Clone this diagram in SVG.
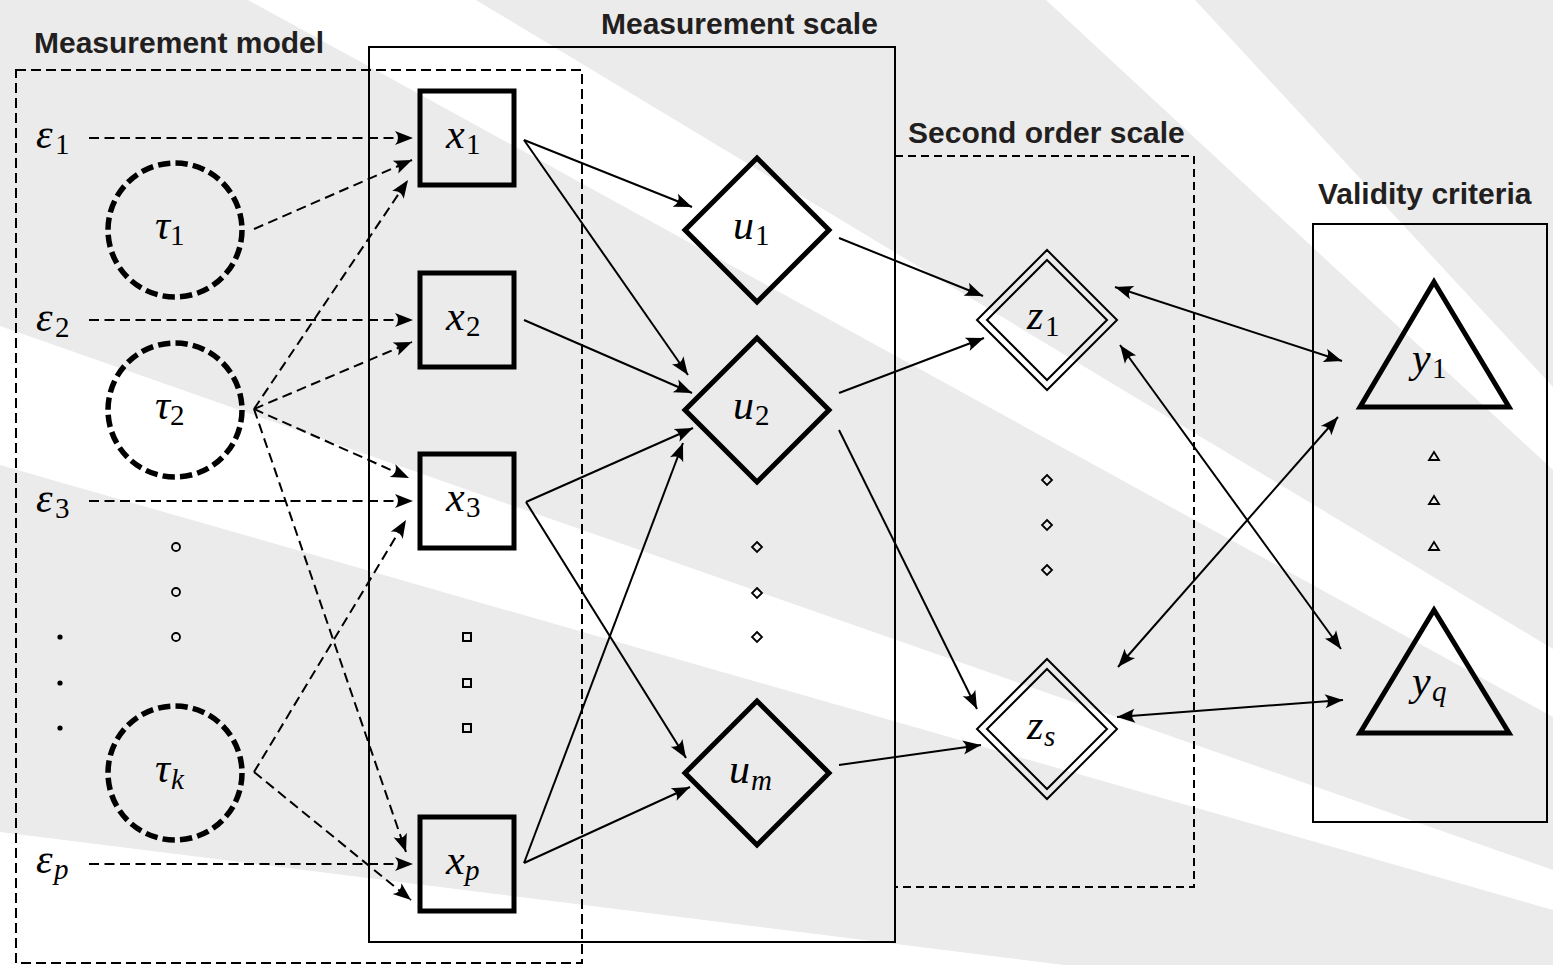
<svg xmlns="http://www.w3.org/2000/svg" width="1553" height="965" viewBox="0 0 1553 965">
<style>
.bg{fill:#ebebeb}
.st{fill:#fff}
.ttl{font-family:"Liberation Sans",Arial,sans-serif;font-weight:bold;font-size:30px;fill:#231f20}
.m{font-family:"Liberation Serif","Times New Roman",serif;font-style:italic;font-size:42px;fill:#000}
.s{font-size:29px}
.up{font-style:normal}
.box{fill:none;stroke:#000;stroke-width:2}
.dbox{fill:none;stroke:#000;stroke-width:2;stroke-dasharray:10 5}
.thk{fill:none;stroke:#000;stroke-width:5;stroke-linejoin:miter}
.tau{fill:none;stroke:#000;stroke-width:5.5;stroke-dasharray:12.3 5.24}
.thin{fill:none;stroke:#000;stroke-width:2}
.sm{fill:none;stroke:#000;stroke-width:1.8}
.dot{fill:#000}
.c{fill:none;stroke:#000;stroke-width:2;marker-end:url(#ah)}
.cd{fill:none;stroke:#000;stroke-width:2;stroke-dasharray:10 5.5;marker-end:url(#ah)}
.bi{fill:none;stroke:#000;stroke-width:2;marker-start:url(#ah);marker-end:url(#ah)}
</style>
<defs>
<marker id="ah" viewBox="-20 -9 22 18" refX="0" refY="0" markerWidth="22" markerHeight="18" markerUnits="userSpaceOnUse" orient="auto-start-reverse">
<path d="M0,0 L-18,-7 Q-12,0 -18,7 Z" fill="#000"/>
</marker>
</defs>

<g id="background">
<rect class="bg" x="0" y="0" width="1553" height="965"/>
<polygon class="st" points="248,0 476,0 1553,649 1553,717"/>
<polygon class="st" points="1046,0 1195,0 1553,387 1553,470"/>
<polygon class="st" points="0,326 1553,870 1553,910 0,465"/>
<polygon class="st" points="0,832 1064,965 0,965"/>
</g>

<g id="groups">
<g id="measurement-model">
<rect class="dbox" x="16" y="70" width="566" height="893"/>
<text class="ttl" x="34" y="53">Measurement model</text>
</g>
<g id="measurement-scale">
<rect class="box" x="369" y="47" width="526" height="895"/>
<text class="ttl" x="601" y="34">Measurement scale</text>
</g>
<g id="second-order-scale">
<rect class="dbox" x="895" y="156" width="299" height="731" style="stroke-dasharray:8 5"/>
<text class="ttl" x="908" y="143">Second order scale</text>
</g>
<g id="validity-criteria">
<rect class="box" x="1313" y="224" width="234" height="598"/>
<text class="ttl" x="1318" y="204">Validity criteria</text>
</g>
</g>

<g id="connectors">
<line class="cd" x1="89" y1="138" x2="413" y2="138"/>
<line class="cd" x1="89" y1="320" x2="413" y2="320"/>
<line class="cd" x1="89" y1="501" x2="413" y2="501"/>
<line class="cd" x1="89" y1="864" x2="413" y2="864"/>
<line class="cd" x1="254" y1="229" x2="412" y2="160"/>
<line class="cd" x1="254" y1="409" x2="408" y2="180"/>
<line class="cd" x1="254" y1="409" x2="412" y2="342"/>
<line class="cd" x1="254" y1="409" x2="409" y2="478"/>
<line class="cd" x1="254" y1="409" x2="406" y2="852"/>
<line class="cd" x1="254" y1="772" x2="406" y2="520"/>
<line class="cd" x1="254" y1="772" x2="411" y2="900"/>
<line class="c" x1="524" y1="140" x2="692" y2="207"/>
<line class="c" x1="524" y1="140" x2="688" y2="375"/>
<line class="c" x1="524" y1="320" x2="692" y2="393"/>
<line class="c" x1="526" y1="502" x2="693" y2="428"/>
<line class="c" x1="524" y1="863" x2="683" y2="443"/>
<line class="c" x1="526" y1="502" x2="686" y2="758"/>
<line class="c" x1="524" y1="863" x2="690" y2="787"/>
<line class="c" x1="839" y1="238" x2="983" y2="296"/>
<line class="c" x1="839" y1="393" x2="984" y2="338"/>
<line class="c" x1="839" y1="430" x2="977" y2="709"/>
<line class="c" x1="839" y1="765" x2="981" y2="745"/>
<line class="bi" x1="1115" y1="287" x2="1342" y2="361"/>
<line class="bi" x1="1120" y1="345" x2="1341" y2="649"/>
<line class="bi" x1="1118" y1="667" x2="1338" y2="417"/>
<line class="bi" x1="1117" y1="717" x2="1343" y2="700"/>
</g>

<g id="eps1"><text class="m" x="36" y="148">ε<tspan class="s up" x="55" y="154">1</tspan></text></g>
<g id="eps2"><text class="m" x="36" y="331">ε<tspan class="s up" x="55" y="337">2</tspan></text></g>
<g id="eps3"><text class="m" x="36" y="512">ε<tspan class="s up" x="55" y="518">3</tspan></text></g>
<g id="epsp"><text class="m" x="36" y="873">ε<tspan class="s" x="54" y="879">p</tspan></text></g>

<g id="tau1"><circle class="tau" cx="175" cy="230" r="67"/><text class="m" x="155" y="239">τ<tspan class="s up" x="170" y="245">1</tspan></text></g>
<g id="tau2"><circle class="tau" cx="175" cy="410" r="67"/><text class="m" x="155" y="419">τ<tspan class="s up" x="170" y="425">2</tspan></text></g>
<g id="tauk"><circle class="tau" cx="175" cy="773" r="67"/><text class="m" x="155" y="782">τ<tspan class="s" x="171" y="789">k</tspan></text></g>
<g id="tau-dots">
<circle class="sm" cx="176" cy="547" r="4"/><circle class="sm" cx="176" cy="592" r="4"/><circle class="sm" cx="176" cy="637" r="4"/>
<circle class="dot" cx="60" cy="637" r="2.6"/><circle class="dot" cx="60" cy="683" r="2.6"/><circle class="dot" cx="60" cy="728" r="2.6"/>
</g>

<g id="x1"><rect class="thk" x="420" y="91" width="94" height="94"/><text class="m" x="446" y="148">x<tspan class="s up" x="466" y="154">1</tspan></text></g>
<g id="x2"><rect class="thk" x="420" y="273" width="94" height="94"/><text class="m" x="446" y="330">x<tspan class="s up" x="466" y="336">2</tspan></text></g>
<g id="x3"><rect class="thk" x="420" y="454" width="94" height="94"/><text class="m" x="446" y="511">x<tspan class="s up" x="466" y="517">3</tspan></text></g>
<g id="xp"><rect class="thk" x="420" y="817" width="94" height="94"/><text class="m" x="446" y="874">x<tspan class="s" x="465" y="880">p</tspan></text></g>
<g id="x-dots">
<rect class="thin" x="463" y="633" width="8" height="8"/><rect class="thin" x="463" y="679" width="8" height="8"/><rect class="thin" x="463" y="724" width="8" height="8"/>
</g>

<g id="u1"><polygon class="thk" points="757,158 829,230 757,302 685,230"/><text class="m" x="733" y="239">u<tspan class="s up" x="755" y="245">1</tspan></text></g>
<g id="u2"><polygon class="thk" points="757,338 829,410 757,482 685,410"/><text class="m" x="733" y="419">u<tspan class="s up" x="755" y="425">2</tspan></text></g>
<g id="um"><polygon class="thk" points="757,701 829,773 757,845 685,773"/><text class="m" x="729" y="783">u<tspan class="s" x="751" y="790">m</tspan></text></g>
<g id="u-dots">
<polygon class="sm" points="757,542 762,547 757,552 752,547"/><polygon class="sm" points="757,588 762,593 757,598 752,593"/><polygon class="sm" points="757,632 762,637 757,642 752,637"/>
</g>

<g id="z1"><polygon class="thin" points="1047,250 1117,320 1047,390 977,320"/><polygon class="thin" points="1047,260 1107,320 1047,380 987,320"/><text class="m" x="1027" y="329">z<tspan class="s up" x="1045" y="336">1</tspan></text></g>
<g id="zs"><polygon class="thin" points="1047,659 1117,729 1047,799 977,729"/><polygon class="thin" points="1047,669 1107,729 1047,789 987,729"/><text class="m" x="1027" y="739">z<tspan class="s" x="1044" y="746">s</tspan></text></g>
<g id="z-dots">
<polygon class="sm" points="1047,475 1052,480 1047,485 1042,480"/><polygon class="sm" points="1047,520 1052,525 1047,530 1042,525"/><polygon class="sm" points="1047,565 1052,570 1047,575 1042,570"/>
</g>

<g id="y1"><polygon class="thk" points="1434,282 1509,407 1360,407"/><text class="m" x="1412" y="372">y<tspan class="s up" x="1432" y="378">1</tspan></text></g>
<g id="yq"><polygon class="thk" points="1434,610 1509,733 1360,733"/><text class="m" x="1412" y="695">y<tspan class="s" x="1432" y="701">q</tspan></text></g>
<g id="y-dots">
<polygon class="sm" points="1434,452 1439,460 1429,460"/><polygon class="sm" points="1434,496 1439,504 1429,504"/><polygon class="sm" points="1434,542 1439,550 1429,550"/>
</g>
</svg>
